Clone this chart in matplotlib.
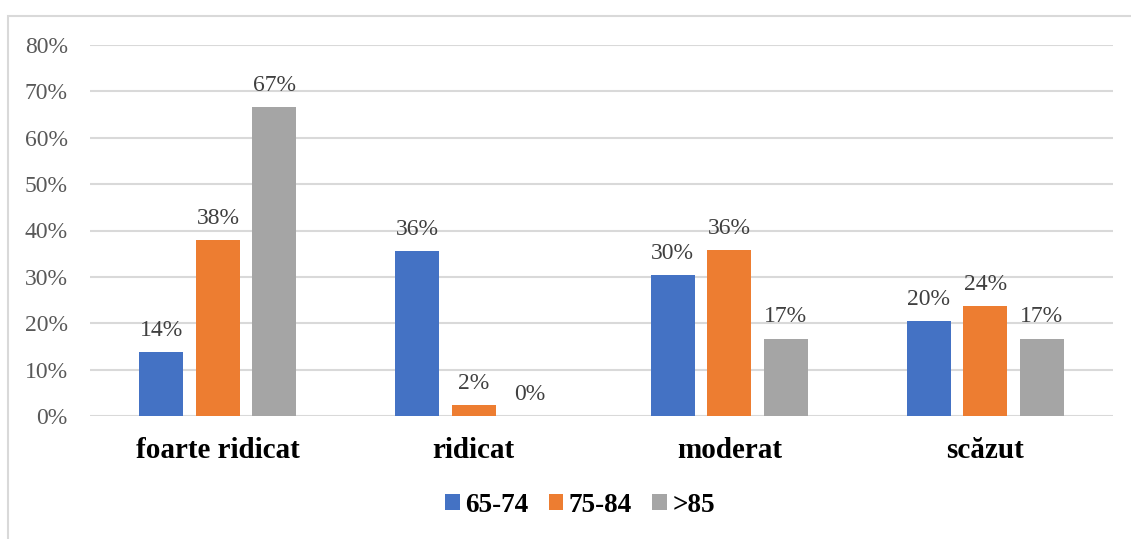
import numpy as np
import matplotlib.pyplot as plt
from matplotlib.patches import Rectangle

# Niveluri de risc și grupe de vârstă
categorii = ["foarte ridicat", "ridicat", "moderat", "scăzut"]
grupe = ["65-74", "75-84", ">85"]
v_65_74 = [13.8, 35.6, 30.3, 20.4]
v_75_84 = [37.9, 2.4, 35.8, 23.8]
v_peste85 = [66.7, 0.0, 16.7, 16.7]
culori = ["#4472C4", "#ED7D31", "#A5A5A5"]

plt.rcParams["font.family"] = ["Liberation Serif", "DejaVu Serif"]

fig = plt.figure(figsize=(11.31, 5.39), dpi=100)
ax = fig.add_axes([90 / 1131, 1 - 416 / 539, 1023 / 1131, 371 / 539])

# chenarul graficului
fig.patches.append(Rectangle((8 / 1131, -0.05), 1.2, 1.05 - 16 / 539,
                             transform=fig.transFigure, fill=False,
                             edgecolor="#D9D9D9", linewidth=1.5))

x = np.arange(len(categorii))
latime = 0.172
pas = 0.221
serii = [v_65_74, v_75_84, v_peste85]
for i, (vals, nume, c) in enumerate(zip(serii, grupe, culori)):
    bare = ax.bar(x + (i - 1) * pas, vals, latime, color=c, label=nume, zorder=3)
    for b, v in zip(bare, vals):
        ax.annotate(f"{v:.0f}%", (b.get_x() + b.get_width() / 2, v),
                    xytext=(0, 8), textcoords="offset points",
                    ha="center", va="bottom", fontsize=17, color="#404040")

ax.set_xlim(-0.5, 3.5)
ax.set_ylim(0, 80)
ax.set_yticks(range(0, 81, 10))
ax.set_yticklabels([f"{t}%" for t in range(0, 81, 10)], fontsize=17, color="#595959")
ax.set_xticks(x)
ax.set_xticklabels(categorii, fontsize=21, fontweight="bold", color="black")
ax.tick_params(axis="both", length=0)
ax.tick_params(axis="x", pad=15)
ax.tick_params(axis="y", pad=16)
ax.grid(axis="y", color="#D9D9D9", linewidth=1.5, zorder=0)
for s in ax.spines.values():
    s.set_visible(False)

leg = fig.legend(loc="center", bbox_to_anchor=(580 / 1131, 1 - 505 / 539), ncol=3,
                 frameon=False, handlelength=0.54, handleheight=0.54,
                 handletextpad=0.2, columnspacing=0.75,
                 prop={"size": 19.5, "weight": "bold"})

fig.savefig("out.png", dpi=100)
